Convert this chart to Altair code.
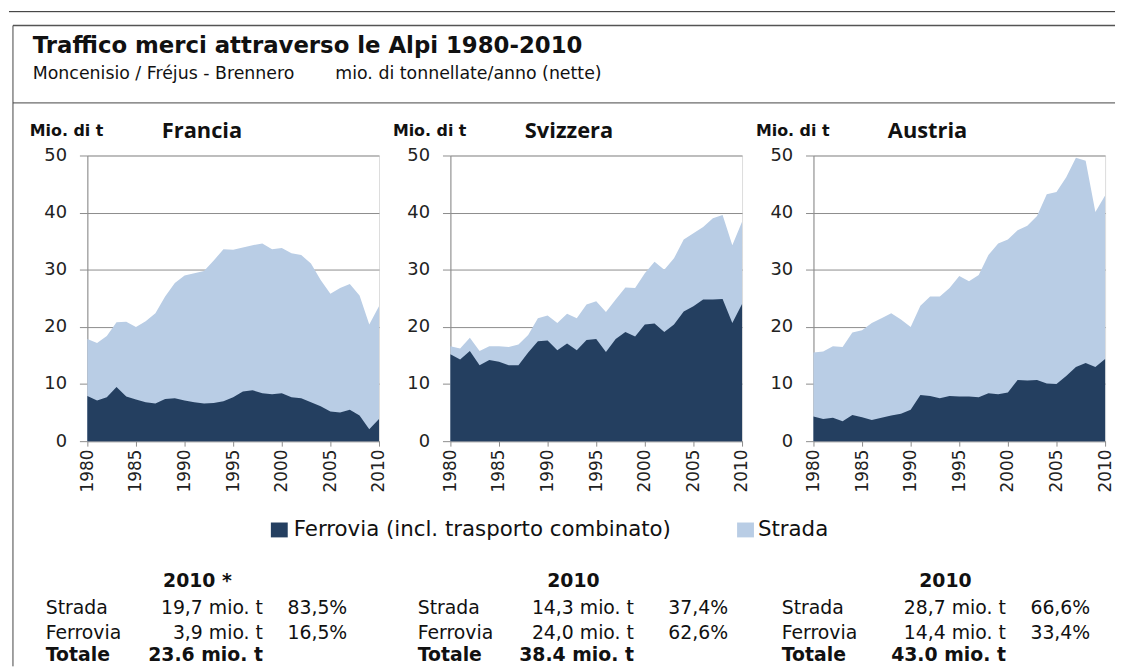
import altair as alt
import pandas as pd

# ---------------- data ----------------
anni = list(range(1980, 2011))

francia_ferrovia = [7.9, 7.1, 7.7, 9.5, 7.8, 7.3, 6.8, 6.6, 7.4, 7.5, 7.1, 6.8, 6.6, 6.7, 7.0, 7.7,
                    8.7, 8.9, 8.4, 8.2, 8.4, 7.7, 7.5, 6.8, 6.1, 5.2, 5.0, 5.5, 4.5, 2.1, 3.9]
francia_totale = [17.9, 17.2, 18.4, 20.8, 20.9, 20.0, 21.0, 22.4, 25.3, 27.7, 29.0, 29.4, 29.8, 31.6, 33.6, 33.5,
                  33.9, 34.3, 34.6, 33.6, 33.8, 32.9, 32.6, 31.1, 28.2, 25.8, 26.8, 27.5, 25.5, 20.4, 23.6]

svizzera_ferrovia = [15.2, 14.3, 15.8, 13.3, 14.2, 13.9, 13.3, 13.3, 15.5, 17.5, 17.6, 15.9, 17.1, 15.9, 17.7, 17.9,
                     15.6, 17.9, 19.1, 18.3, 20.4, 20.6, 19.1, 20.4, 22.7, 23.6, 24.8, 24.8, 24.9, 20.7, 24.0]
svizzera_totale = [16.6, 16.2, 18.1, 15.8, 16.6, 16.6, 16.5, 16.9, 18.6, 21.5, 22.0, 20.7, 22.3, 21.5, 23.9, 24.5,
                   22.6, 24.8, 26.9, 26.8, 29.4, 31.4, 30.0, 32.0, 35.3, 36.4, 37.5, 39.0, 39.6, 34.3, 38.4]

austria_ferrovia = [4.3, 3.9, 4.1, 3.5, 4.6, 4.2, 3.7, 4.1, 4.5, 4.8, 5.5, 8.1, 7.9, 7.5, 7.9, 7.8,
                    7.8, 7.7, 8.4, 8.2, 8.5, 10.7, 10.6, 10.7, 10.1, 10.0, 11.4, 13.0, 13.7, 13.0, 14.4]
austria_totale = [15.5, 15.7, 16.6, 16.5, 19.0, 19.4, 20.7, 21.5, 22.4, 21.3, 20.0, 23.7, 25.3, 25.3, 26.8, 28.9,
                  28.0, 29.1, 32.6, 34.6, 35.3, 36.9, 37.7, 39.4, 43.2, 43.6, 46.2, 49.6, 49.1, 40.1, 43.0]

paesi = ["Francia", "Svizzera", "Austria"]
anni_tabella = ["2010 *", "2010", "2010"]
strada_mio = ["19,7 mio. t", "14,3 mio. t", "28,7 mio. t"]
strada_pct = ["83,5%", "37,4%", "66,6%"]
ferrovia_mio = ["3,9 mio. t", "24,0 mio. t", "14,4 mio. t"]
ferrovia_pct = ["16,5%", "62,6%", "33,4%"]
totale_mio = ["23.6 mio. t", "38.4 mio. t", "43.0 mio. t"]

tick_anni = [1980, 1985, 1990, 1995, 2000, 2005, 2010]
tick_valori = [0, 10, 20, 30, 40, 50]

titolo = "Traffico merci attraverso le Alpi 1980-2010"
sottotitolo_1 = "Moncenisio / Fréjus - Brennero"
sottotitolo_2 = "mio. di tonnellate/anno (nette)"
unita = "Mio. di t"
legenda = ["Ferrovia (incl. trasporto combinato)", "Strada"]

# ---------------- style ----------------
DARK = "#243F60"
LIGHT = "#B9CDE5"
GRAY = "#8C8C8C"
AXFONT = "DejaVu Sans"
TFONT = "DejaVu Sans"
PFONT = "Open Sans"
W, H = 294, 288

# per-panel table offsets (relative to the panel plot area)
tab_cfg = [
    dict(label=-42, val=177, pct=262, year=111),
    dict(label=-33, val=185, pct=280, year=124),
    dict(label=-32, val=194, pct=279, year=133),
]

one = pd.DataFrame({"t": [0]})


def txt(t, x, y, size=18, bold=False, align="left", font=TFONT, color="#111"):
    return alt.Chart(pd.DataFrame({"t": [t]})).mark_text(
        align=align, baseline="alphabetic", fontSize=size, font=font,
        fontWeight="bold" if bold else "normal", color=color
    ).encode(text="t:N", x=alt.value(x), y=alt.value(y))


def panel(i, ferr, tot, first=False):
    df = pd.DataFrame({"anno": anni, "Ferrovia": ferr, "Totale": tot})
    xenc = alt.X("anno:Q",
                 scale=alt.Scale(domain=[1980, 2010], nice=False, zero=False),
                 axis=alt.Axis(values=tick_anni, format="d", labelAngle=-90, title=None,
                               grid=False, tickSize=5, labelPadding=3, domainColor=GRAY,
                               tickColor=GRAY, labelFont=AXFONT, labelFontSize=17,
                               labelColor="#222"))
    yaxis = alt.Axis(values=tick_valori, title=None, grid=True, gridColor=GRAY,
                     tickSize=8, tickColor=GRAY, domainColor=GRAY, labelPadding=13,
                     labelFont=AXFONT, labelFontSize=18, labelColor="#222")
    yscale = alt.Scale(domain=[0, 50], nice=False)
    a_tot = alt.Chart(df).mark_area(color=LIGHT).encode(
        x=xenc, y=alt.Y("Totale:Q", scale=yscale, axis=yaxis))
    a_fer = alt.Chart(df).mark_area(color=DARK).encode(
        x=xenc, y=alt.Y("Ferrovia:Q", scale=yscale, axis=yaxis))

    c = tab_cfg[i]
    r0, r1, r2, r3 = 435, 462, 487, 510
    layers = [a_tot, a_fer,
              txt(unita, -58, -20, size=16, bold=True),
              txt(paesi[i], 75, -18, size=22, bold=True, font=PFONT),
              txt(anni_tabella[i], c["year"], r0, size=19, bold=True, align="center"),
              txt("Strada", c["label"], r1, size=19),
              txt(strada_mio[i], c["val"], r1, size=19, align="right"),
              txt(strada_pct[i], c["pct"], r1, size=19, align="right"),
              txt("Ferrovia", c["label"], r2, size=19),
              txt(ferrovia_mio[i], c["val"], r2, size=19, align="right"),
              txt(ferrovia_pct[i], c["pct"], r2, size=19, align="right"),
              txt("Totale", c["label"], r3, size=19, bold=True),
              txt(totale_mio[i], c["val"], r3, size=19, bold=True, align="right"),
              ]
    if first:
        layers += [
            alt.Chart(one).mark_rule(color="#222", strokeWidth=1).encode(
                x=alt.value(-79), x2=alt.value(1036), y=alt.value(-145)),
            alt.Chart(one).mark_rule(color="#555", strokeWidth=1.5).encode(
                x=alt.value(-75), x2=alt.value(1036), y=alt.value(-131)),
            alt.Chart(one).mark_rule(color="#444", strokeWidth=1).encode(
                x=alt.value(-75), x2=alt.value(1036), y=alt.value(-53)),
            alt.Chart(one).mark_rule(color="#444", strokeWidth=1).encode(
                x=alt.value(-75), y=alt.value(-131), y2=alt.value(515)),
            txt(titolo, -55, -103, size=23, bold=True, font="DejaVu Sans"),
            txt(sottotitolo_1, -55, -77, size=17.5, font="DejaVu Sans"),
            txt(sottotitolo_2, 250, -77, size=17.5, font="DejaVu Sans"),
            # legend
            alt.Chart(one).mark_rect(color=DARK).encode(
                x=alt.value(185), x2=alt.value(202), y=alt.value(370), y2=alt.value(385)),
            txt(legenda[0], 208, 384, size=21.5),
            alt.Chart(one).mark_rect(color=LIGHT).encode(
                x=alt.value(655), x2=alt.value(672), y=alt.value(370), y2=alt.value(385)),
            txt(legenda[1], 676, 384, size=21.5),
        ]
    return alt.layer(*layers).properties(width=W, height=H)


p1 = panel(0, francia_ferrovia, francia_totale, first=True)
p2 = panel(1, svizzera_ferrovia, svizzera_totale)
p3 = panel(2, austria_ferrovia, austria_totale)

chart = alt.hconcat(p1, p2, p3, spacing=72, bounds="flush").properties(
    padding=0
).configure_view(stroke=None).configure(background="white")

chart.save("out.html", embed_options={"renderer": "svg", "actions": False})
